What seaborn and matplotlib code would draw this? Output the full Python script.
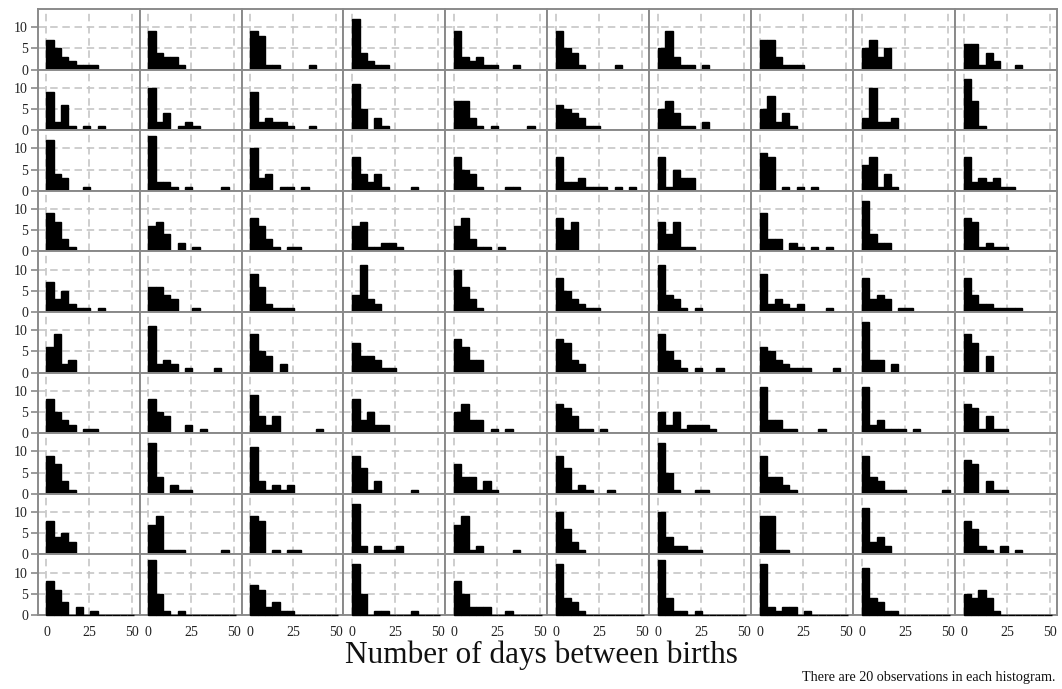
import numpy as np
import pandas as pd
import matplotlib
matplotlib.use("Agg")
import matplotlib.pyplot as plt
import seaborn as sns

# Histogram layout: 12 bins of equal width starting at day 0
BIN_WIDTH = 4.25
N_BINS = 12

# Bin counts (first bin = 0-4.25 days), one list per histogram, ten histograms per row
row0 = [[7, 5, 3, 2, 1, 1, 1], [9, 4, 3, 3, 1], [9, 8, 1, 1, 0, 0, 0, 0, 1], [12, 4, 2, 1, 1],
        [9, 3, 2, 3, 1, 1, 0, 0, 1], [9, 5, 4, 1, 0, 0, 0, 0, 1], [5, 9, 3, 1, 1, 0, 1],
        [7, 7, 3, 1, 1, 1], [5, 7, 3, 5], [6, 6, 1, 4, 2, 0, 0, 1]]
row1 = [[9, 2, 6, 1, 0, 1, 0, 1], [10, 2, 4, 0, 1, 2, 1], [9, 2, 3, 2, 2, 1, 0, 0, 1], [11, 5, 0, 3, 1],
        [7, 7, 3, 1, 0, 1, 0, 0, 0, 0, 1], [6, 5, 4, 3, 1, 1], [5, 7, 4, 1, 1, 0, 2],
        [5, 8, 2, 4, 1], [3, 10, 2, 2, 3], [12, 7, 1]]
row2 = [[12, 4, 3, 0, 0, 1], [13, 2, 2, 1, 0, 1, 0, 0, 0, 0, 1], [10, 3, 4, 0, 1, 1, 0, 1],
        [8, 4, 2, 4, 1, 0, 0, 0, 1], [8, 5, 4, 1, 0, 0, 0, 1, 1], [8, 2, 2, 3, 1, 1, 1, 0, 1, 0, 1],
        [8, 1, 5, 3, 3], [9, 8, 0, 1, 0, 1, 0, 1], [6, 8, 1, 4, 1], [8, 2, 3, 2, 3, 1, 1]]
row3 = [[9, 7, 3, 1], [6, 7, 4, 0, 2, 0, 1], [8, 6, 3, 1, 0, 1, 1], [6, 7, 1, 1, 2, 2, 1],
        [6, 8, 3, 1, 1, 0, 1], [8, 5, 7], [7, 4, 7, 1, 1], [9, 3, 3, 0, 2, 1, 0, 1, 0, 1],
        [12, 4, 2, 2], [8, 7, 1, 2, 1, 1]]
row4 = [[7, 3, 5, 2, 1, 1, 0, 1], [6, 6, 4, 3, 0, 0, 1], [9, 6, 2, 1, 1, 1], [4, 11, 3, 2],
        [10, 6, 3, 1], [8, 5, 3, 2, 1, 1], [11, 4, 3, 1, 0, 1], [9, 2, 3, 2, 1, 2, 0, 0, 0, 1],
        [8, 3, 4, 3, 0, 1, 1], [8, 4, 2, 2, 1, 1, 1, 1]]
row5 = [[6, 9, 2, 3], [11, 2, 3, 2, 0, 1, 0, 0, 0, 1], [9, 5, 4, 0, 2], [7, 4, 4, 3, 1, 1],
        [8, 6, 3, 3], [8, 7, 3, 2], [9, 5, 3, 1, 0, 1, 0, 0, 1], [6, 5, 3, 2, 1, 1, 1, 0, 0, 0, 1],
        [12, 3, 3, 0, 2], [9, 7, 0, 4]]
row6 = [[8, 5, 3, 2, 0, 1, 1], [8, 5, 4, 0, 0, 2, 0, 1], [9, 4, 2, 4, 0, 0, 0, 0, 0, 1],
        [8, 3, 5, 2, 2], [5, 7, 3, 3, 0, 1, 0, 1], [7, 6, 4, 1, 1, 0, 1], [5, 2, 5, 1, 2, 2, 2, 1],
        [11, 3, 3, 1, 1, 0, 0, 0, 1], [11, 2, 3, 1, 1, 1, 0, 1], [7, 6, 1, 4, 1, 1]]
row7 = [[9, 7, 3, 1], [12, 4, 0, 2, 1, 1], [11, 3, 1, 2, 1, 2], [9, 6, 1, 3, 0, 0, 0, 0, 1],
        [7, 4, 4, 1, 3, 1], [9, 6, 1, 2, 1, 0, 0, 1], [12, 5, 1, 0, 0, 1, 1], [9, 4, 4, 2, 1],
        [9, 4, 3, 1, 1, 1, 0, 0, 0, 0, 0, 1], [8, 7, 0, 3, 1, 1]]
row8 = [[8, 4, 5, 3], [7, 9, 1, 1, 1, 0, 0, 0, 0, 0, 1], [9, 8, 0, 1, 0, 1, 1], [12, 2, 0, 2, 1, 1, 2],
        [7, 9, 1, 2, 0, 0, 0, 0, 1], [10, 6, 3, 1], [10, 4, 2, 2, 1, 1], [9, 9, 1, 1],
        [11, 3, 4, 2], [8, 6, 2, 1, 0, 2, 0, 1]]
row9 = [[8, 6, 3, 0, 2, 0, 1], [13, 5, 1, 0, 1], [7, 6, 2, 3, 1, 1], [12, 5, 0, 1, 1, 0, 0, 0, 1],
        [8, 5, 2, 2, 2, 0, 0, 1], [12, 4, 3, 1], [13, 4, 1, 1, 0, 1],
        [12, 2, 1, 2, 2, 0, 1], [11, 4, 3, 1, 1], [5, 4, 6, 4, 1]]

rows = [row0, row1, row2, row3, row4, row5, row6, row7, row8, row9]

x_ticks = [0, 25, 50]
y_ticks = [0, 5, 10]
x_title = "Number of days between births"
note = "There are 20 observations in each histogram."

sns.set_theme(style="white")
plt.rcParams["font.family"] = ["Liberation Serif", "DejaVu Serif"]

frame_color = "#8a8a8a"
grid_color = "#c6c6c6"
dash = (0, (4.5, 2.8))

edges = [i * BIN_WIDTH for i in range(N_BINS + 1)]
centers = [e + BIN_WIDTH / 2 for e in edges[:-1]]

fig, axes = plt.subplots(10, 10, figsize=(10.62, 6.89), dpi=100, sharex=True, sharey=True)
fig.subplots_adjust(left=0.0355, right=0.9953, top=0.9869, bottom=0.1074, wspace=0, hspace=0)

for r, row in enumerate(rows):
    for c, counts in enumerate(row):
        ax = axes[r, c]
        full = list(counts) + [0] * (N_BINS - len(counts))
        frame = pd.DataFrame({"days": centers, "n": full})
        sns.histplot(data=frame, x="days", weights="n", bins=edges, ax=ax, color="black",
                     edgecolor="black", linewidth=1.0, alpha=1)
        for p in ax.patches:
            p.set_clip_on(False)
            p.set_zorder(3)
        ax.set_xlim(-5.1, 54.2)
        ax.set_ylim(0, 14.3)
        ax.set_xticks(x_ticks)
        ax.set_yticks(y_ticks)
        for xv in x_ticks:
            ax.axvline(xv, color=grid_color, lw=1.2, ls=dash, zorder=0)
        for yv in y_ticks[1:]:
            ax.axhline(yv, color=grid_color, lw=1.2, ls=dash, zorder=0)
        for s in ax.spines.values():
            s.set_visible(True)
            s.set_color(frame_color)
            s.set_linewidth(1.4)
        ax.set_xlabel("")
        ax.set_ylabel("")
        ax.tick_params(axis="x", length=0, pad=8, labelsize=10, colors="#222222")
        ax.tick_params(axis="y", left=(c == 0), length=5, width=1.2, color=frame_color,
                       pad=2, labelsize=10, labelcolor="#222222")

fig.text(541 / 1062, 1 - 655 / 689, x_title, ha="center", va="center", fontsize=22.5, color="#111111")
fig.text(1055 / 1062, 1 - 677 / 689, note, ha="right", va="center", fontsize=10.2, color="#111111")

fig.savefig("out.png", dpi=100)
